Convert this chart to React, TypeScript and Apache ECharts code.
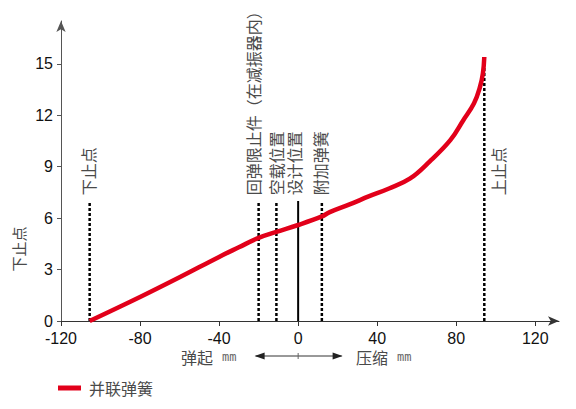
import React, { useEffect, useRef } from "react";
import * as echarts from "echarts";

const xTicks = [-120, -80, -40, 0, 40, 80, 120];
const yTicks = [0, 3, 6, 9, 12, 15];

const curveX = [-105.5, -80, -60, -40, -30, -20, -11, 0, 12, 16, 26, 36, 46, 56.5, 66.5, 77, 83.5, 89, 92, 93.5, 94.2];
const curveY = [0, 1.4, 2.55, 3.74, 4.3, 4.85, 5.2, 5.6, 6.1, 6.35, 6.8, 7.28, 7.73, 8.3, 9.3, 10.55, 11.7, 12.7, 13.65, 14.45, 15.4];

const markerNames = ["下止点", "回弹限止件（在减振器内）", "空载位置", "设计位置", "附加弹簧", "上止点"];
const markerX = [-105.5, -20, -11, 0, 12, 94.2];
const markerTop = [7, 7, 7, 7, 7, 15.4];
const markerSolid = [false, false, false, true, false, false];

const seriesName = "并联弹簧";
const yName = "下止点";
const leftDirLabel = "弹起";
const rightDirLabel = "压缩";
const unit = "mm";

const CJK = "'Noto Sans CJK SC', 'Noto Sans', sans-serif";
const LAT = "'Liberation Sans', Arial, sans-serif";
const TEXT_GRAY = "#4a4a4a";

export default function App() {
  const ref = useRef<HTMLDivElement>(null);

  useEffect(() => {
    if (!ref.current) return;
    const chart = echarts.init(ref.current, null, { renderer: "svg" });

    const markerSeries = markerX.map((x, i) => ({
      type: "line",
      name: markerNames[i],
      data: [
        [x, 0],
        [x, markerTop[i]],
      ],
      symbol: "none",
      silent: true,
      z: 3,
      lineStyle: {
        color: "#000",
        width: markerSolid[i] ? 2 : 2.5,
        type: markerSolid[i] ? "solid" : [3, 2],
      },
    }));

    const option: any = {
      animation: false,
      grid: { left: 61, right: 17, top: 21, bottom: 88, containLabel: false },
      legend: {
        data: [seriesName],
        left: 58,
        top: 380,
        padding: 0,
        itemWidth: 23,
        itemHeight: 5,
        icon: "rect",
        textStyle: { fontSize: 16, color: TEXT_GRAY, fontFamily: CJK, padding: [0, 0, 0, 3] },
      },
      xAxis: {
        type: "value",
        min: -120,
        max: 132,
        splitLine: { show: false },
        axisLine: {
          onZero: false,
          symbol: ["none", "arrow"],
          symbolSize: [7, 11],
          lineStyle: { color: "#333", width: 1 },
        },
        axisTick: { show: true, length: 5, customValues: xTicks, lineStyle: { color: "#333" } },
        axisLabel: { customValues: xTicks, fontSize: 16, color: "#111", fontFamily: LAT, margin: 9 },
      },
      yAxis: {
        type: "value",
        min: 0,
        max: 17.5,
        splitLine: { show: false },
        axisLine: {
          show: true,
          onZero: false,
          symbol: ["none", "arrow"],
          symbolSize: [7, 11],
          lineStyle: { color: "#555", width: 1 },
        },
        axisTick: { show: true, length: 4, customValues: yTicks, lineStyle: { color: "#555" } },
        axisLabel: { customValues: yTicks, fontSize: 16, color: "#111", fontFamily: LAT, margin: 8 },
      },
      series: [
        ...markerSeries,
        {
          type: "line",
          name: seriesName,
          data: curveX.map((x, i) => [x, curveY[i]]),
          smooth: 0.4,
          symbol: "none",
          z: 4,
          color: "#e2001a",
          lineStyle: { color: "#e2001a", width: 4.5 },
        },
      ],
    };

    chart.setOption(option);

    const px = (x: number, y: number) => chart.convertToPixel({ gridIndex: 0 }, [x, y]) as number[];
    const labelOffsets = [-2, -6, 0, -4, -2, 14];
    const labelBottom = 7.34;
    const graphics: any[] = markerNames.map((name, i) => {
      const p = px(markerX[i], labelBottom);
      return {
        type: "text",
        x: p[0] + labelOffsets[i],
        y: p[1],
        rotation: Math.PI / 2,
        silent: true,
        style: {
          text: name,
          fontSize: 16,
          fontFamily: CJK,
          fill: TEXT_GRAY,
          align: "left",
          verticalAlign: "middle",
        },
      };
    });

    const yn = px(-120, 4.2);
    graphics.push({
      type: "text",
      x: 18,
      y: yn[1],
      rotation: Math.PI / 2,
      silent: true,
      style: {
        text: yName,
        fontSize: 15,
        fontFamily: CJK,
        fill: TEXT_GRAY,
        align: "center",
        verticalAlign: "middle",
      },
    });

    const c = px(0, 0);
    const arrowY = 356;
    const aL = px(-21.5, 0)[0];
    const aR = px(22, 0)[0];
    const dirStyle = (label: string) => ({
      text: `{a|${label}}{b|${unit}}`,
      verticalAlign: "middle",
      align: "left",
      fill: TEXT_GRAY,
      rich: {
        a: { fontSize: 16, fontFamily: CJK, fill: TEXT_GRAY, padding: [0, 9, 0, 0] },
        b: { fontSize: 12, fontFamily: "'DejaVu Sans Mono', monospace", fill: "#666" },
      },
    });
    graphics.push(
      {
        type: "line",
        silent: true,
        shape: { x1: aL, y1: arrowY, x2: aR, y2: arrowY },
        style: { stroke: "#333", lineWidth: 1 },
      },
      {
        type: "line",
        silent: true,
        shape: { x1: c[0], y1: arrowY - 3, x2: c[0], y2: arrowY + 3 },
        style: { stroke: "#666", lineWidth: 1 },
      },
      {
        type: "polygon",
        silent: true,
        shape: { points: [[aL - 1, arrowY], [aL + 9, arrowY - 3.5], [aL + 9, arrowY + 3.5]] },
        style: { fill: "#222" },
      },
      {
        type: "polygon",
        silent: true,
        shape: { points: [[aR + 1, arrowY], [aR - 9, arrowY - 3.5], [aR - 9, arrowY + 3.5]] },
        style: { fill: "#222" },
      },
      { type: "text", x: 181, y: arrowY + 1, silent: true, style: dirStyle(leftDirLabel) },
      { type: "text", x: 356, y: arrowY + 1, silent: true, style: dirStyle(rightDirLabel) }
    );

    chart.setOption({ graphic: graphics });

    return () => chart.dispose();
  }, []);

  return (
    <div
      ref={ref}
      style={{ position: "fixed", left: 0, top: 0, width: 576, height: 409, background: "#fff" }}
    />
  );
}
